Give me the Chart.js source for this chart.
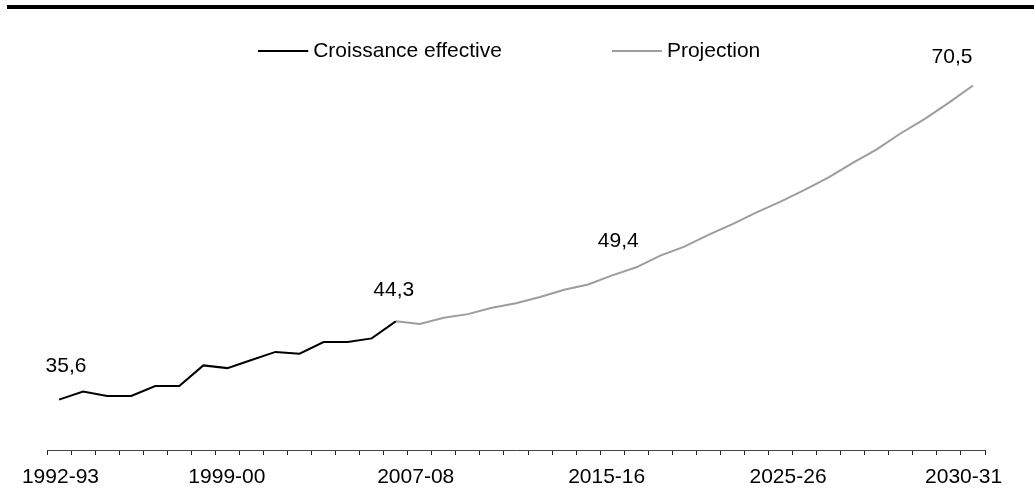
<!DOCTYPE html>
<html lang="fr">
<head>
<meta charset="utf-8">
<title>Croissance effective et projection</title>
<script src="https://cdn.jsdelivr.net/npm/chart.js@4/dist/chart.umd.min.js"></script>
<style>
  html, body { margin: 0; padding: 0; background: #fff; }
  #wrap { position: relative; width: 1034px; height: 501px; overflow: hidden; }
  #wrap canvas { position: absolute; left: 0; top: 0; }
  #rule { position: absolute; left: 7px; top: 5px; width: 1027px; height: 4px; background: #000; }
</style>
</head>
<body>
<div id="wrap">
  <canvas id="chart" width="1034" height="501"></canvas>
  <div id="rule"></div>
</div>
<script>
// Fiscal years on the horizontal axis
const categories = [
  '1992-93', '1993-94', '1994-95', '1995-96', '1996-97', '1997-98', '1998-99',
  '1999-00', '2000-01', '2001-02', '2002-03', '2003-04', '2004-05', '2005-06',
  '2006-07', '2007-08', '2008-09', '2009-10', '2010-11', '2011-12', '2012-13',
  '2013-14', '2014-15', '2015-16', '2016-17', '2017-18', '2018-19', '2019-20',
  '2020-21', '2021-22', '2022-23', '2023-24', '2024-25', '2025-26', '2026-27',
  '2027-28', '2028-29', '2029-30', '2030-31'
];

// Observed values, from 1992-93
const actualValues = [
  35.6, 36.5, 36.0, 36.0, 37.1, 37.1, 39.4, 39.1, 40.0, 40.9, 40.7, 42.0, 42.0, 42.4, 44.3
];

// Projected values, starting from the last observed year
const projectionStart = '2006-07';
const projectionValues = [
  44.3, 44.0, 44.7, 45.1, 45.8, 46.3, 47.0, 47.8, 48.4, 49.4, 50.3, 51.6, 52.6,
  53.9, 55.1, 56.4, 57.6, 58.9, 60.3, 61.9, 63.4, 65.2, 66.8, 68.6, 70.5
];

// Text shown under the axis
const axisLabels = ['1992-93', '1999-00', '2007-08', '2015-16', '2025-26', '2030-31'];

// Series names
const seriesNames = ['Croissance effective', 'Projection'];

// ---------------------------------------------------------------------------

const FONT = '"Liberation Sans", Arial, Helvetica, sans-serif';
const FONT_SIZE = 21;
const COLORS = ['#000000', '#9d9d9d'];

// where each axis label sits along the category index
const axisLabelSlots = [0.06, 6.98, 14.83, 22.77, 30.31, 37.61];

const toPoints = (values, startIndex) =>
  values.map((v, i) => ({ x: startIndex + i, y: v }));

// legend key: a short horizontal stroke, offset so it ends just before the text
function legendStroke(color) {
  const c = document.createElement('canvas');
  c.width = 58;
  c.height = 4;
  const g = c.getContext('2d');
  g.fillStyle = color;
  g.fillRect(0, 1, 50, 2);
  return c;
}

const formatValue = v => v.toFixed(1).replace('.', ',');

// value tags written next to selected points
const valueTags = {
  id: 'valueTags',
  afterDatasetsDraw(chart, args, opts) {
    const ctx = chart.ctx;
    ctx.save();
    ctx.font = FONT_SIZE + 'px ' + FONT;
    ctx.fillStyle = '#000';
    ctx.textAlign = 'center';
    ctx.textBaseline = 'middle';
    for (const t of opts.tags) {
      const el = chart.getDatasetMeta(t.dataset).data[t.index];
      const v = chart.data.datasets[t.dataset].data[t.index].y;
      ctx.fillText(formatValue(v), el.x + t.dx, el.y + t.dy);
    }
    ctx.restore();
  }
};

const projIndex = categories.indexOf(projectionStart);

new Chart(document.getElementById('chart'), {
  type: 'line',
  data: {
    datasets: [
      {
        label: seriesNames[0],
        data: toPoints(actualValues, 0),
        borderColor: COLORS[0],
        backgroundColor: COLORS[0],
        borderWidth: 2,
        pointRadius: 0,
        pointHoverRadius: 0,
        pointStyle: legendStroke(COLORS[0]),
        tension: 0,
        order: 0
      },
      {
        label: seriesNames[1],
        data: toPoints(projectionValues, projIndex),
        borderColor: COLORS[1],
        backgroundColor: COLORS[1],
        borderWidth: 2,
        pointRadius: 0,
        pointHoverRadius: 0,
        pointStyle: legendStroke(COLORS[1]),
        tension: 0,
        order: 1
      }
    ]
  },
  options: {
    responsive: false,
    devicePixelRatio: 1,
    animation: false,
    events: [],
    layout: {
      autoPadding: false,
      padding: { left: 47, right: 49, top: -83, bottom: 0.8 }
    },
    plugins: {
      tooltip: { enabled: false },
      legend: {
        display: true,
        position: 'top',
        align: 'center',
        labels: {
          usePointStyle: true,
          pointStyleWidth: 31,
          padding: 123.5,
          color: '#000',
          font: { family: FONT, size: FONT_SIZE }
        }
      },
      valueTags: {
        tags: [
          { dataset: 0, index: 0, dx: 7, dy: -33 },
          { dataset: 0, index: 14, dx: -2, dy: -31 },
          { dataset: 1, index: 9, dx: 6, dy: -34 },
          { dataset: 1, index: 24, dx: -21, dy: -28 }
        ]
      }
    },
    scales: {
      x: {
        type: 'linear',
        min: -0.5,
        max: categories.length - 0.5,
        bounds: 'data',
        afterBuildTicks(scale) {
          const ticks = [];
          for (let i = 0; i <= categories.length; i++) ticks.push({ value: i - 0.5 });
          axisLabelSlots.forEach(v => ticks.push({ value: v }));
          ticks.sort((a, b) => a.value - b.value);
          scale.ticks = ticks;
        },
        ticks: {
          autoSkip: false,
          maxRotation: 0,
          minRotation: 0,
          padding: 10,
          color: '#000',
          font: { family: FONT, size: FONT_SIZE },
          callback(value) {
            const k = axisLabelSlots.indexOf(value);
            return k >= 0 ? axisLabels[k] : '';
          }
        },
        grid: {
          display: true,
          drawOnChartArea: false,
          drawTicks: true,
          tickLength: 5,
          tickColor: '#222',
          tickWidth: c => (c.tick && Number.isInteger(c.tick.value + 0.5)) ? 1 : 0
        },
        border: { display: true, color: '#444', width: 1 }
      },
      y: {
        display: false,
        min: 30,
        max: 72.06
      }
    }
  },
  plugins: [valueTags]
});
</script>
</body>
</html>
